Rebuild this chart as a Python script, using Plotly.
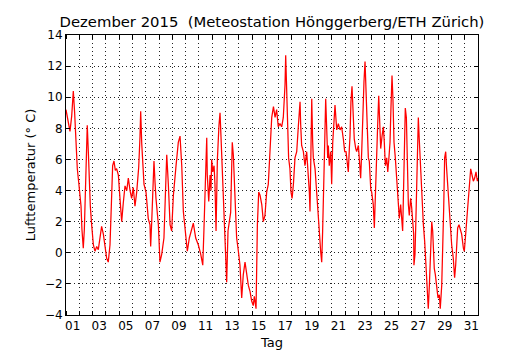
import plotly.graph_objects as go

# Time in days of December (1.0 = Dec 1, 00:00) and air temperature (°C)
days = [1.00, 1.15, 1.30, 1.43, 1.55, 1.65, 1.75, 1.85, 1.96, 2.05, 2.13, 2.20, 2.30, 2.38, 2.48,
        2.56, 2.60, 2.68, 2.75, 2.83, 2.93, 3.06, 3.18, 3.31, 3.43, 3.56, 3.68, 3.81, 3.93, 4.06,
        4.18, 4.31, 4.41, 4.51, 4.61, 4.71, 4.81, 4.94, 5.06, 5.19, 5.31, 5.44, 5.57, 5.69, 5.82,
        5.94, 6.06, 6.19, 6.32, 6.47, 6.57, 6.62, 6.70, 6.77, 6.87, 7.02, 7.12, 7.19, 7.32, 7.37,
        7.45, 7.52, 7.62, 7.70, 7.77, 7.95, 8.07, 8.20, 8.37, 8.47, 8.58, 8.70, 8.83, 8.95, 9.08,
        9.28, 9.45, 9.58, 9.71, 9.83, 9.95, 10.13, 10.28, 10.46, 10.58, 10.76, 10.96, 11.14, 11.29,
        11.38, 11.46, 11.53, 11.59, 11.63, 11.74, 11.84, 11.91, 11.96, 12.04, 12.14, 12.21, 12.29,
        12.39, 12.51, 12.59, 12.66, 12.79, 12.91, 13.02, 13.09, 13.19, 13.29, 13.39, 13.51, 13.59,
        13.72, 13.84, 13.97, 14.09, 14.22, 14.34, 14.47, 14.60, 14.72, 14.85, 14.97, 15.09, 15.17,
        15.30, 15.40, 15.50, 15.60, 15.73, 15.85, 15.97, 16.10, 16.22, 16.35, 16.48, 16.61, 16.73,
        16.85, 16.97, 17.10, 17.23, 17.35, 17.48, 17.53, 17.60, 17.68, 17.75, 17.85, 17.93, 18.01,
        18.11, 18.23, 18.36, 18.48, 18.61, 18.66, 18.73, 18.86, 18.98, 19.11, 19.23, 19.31, 19.36,
        19.49, 19.56, 19.61, 19.74, 19.86, 19.99, 20.06, 20.16, 20.24, 20.31, 20.36, 20.44, 20.54,
        20.61, 20.69, 20.74, 20.81, 20.92, 20.99, 21.07, 21.17, 21.24, 21.37, 21.49, 21.62, 21.74,
        21.87, 21.97, 22.07, 22.17, 22.24, 22.32, 22.37, 22.44, 22.52, 22.62, 22.69, 22.80, 22.87,
        23.00, 23.07, 23.17, 23.25, 23.32, 23.42, 23.50, 23.57, 23.67, 23.75, 23.82, 23.93, 24.00,
        24.12, 24.20, 24.27, 24.38, 24.45, 24.53, 24.57, 24.68, 24.78, 24.88, 24.95, 25.03, 25.13,
        25.21, 25.28, 25.38, 25.45, 25.53, 25.60, 25.68, 25.78, 25.88, 25.98, 26.08, 26.18, 26.26,
        26.33, 26.38, 26.46, 26.53, 26.61, 26.68, 26.76, 26.83, 26.93, 27.01, 27.09, 27.16, 27.18,
        27.26, 27.33, 27.39, 27.46, 27.51, 27.58, 27.69, 27.79, 27.89, 27.99, 28.09, 28.19, 28.26,
        28.34, 28.44, 28.52, 28.59, 28.64, 28.71, 28.79, 28.89, 28.99, 29.09, 29.16, 29.27, 29.34,
        29.42, 29.49, 29.57, 29.64, 29.72, 29.79, 29.89, 30.02, 30.14, 30.24, 30.32, 30.40, 30.47,
        30.57, 30.65, 30.77, 30.90, 30.97, 31.05, 31.15, 31.25, 31.35, 31.45, 31.55, 31.65, 31.75,
        31.85, 31.95, 32.00]
temps = [9.2, 8.6, 7.8, 8.8, 10.4, 9.0, 6.5, 5.4, 4.5, 3.9, 3.0, 1.5, 0.3, 1.5, 5.0,
         7.0, 8.2, 6.5, 4.4, 3.0, 1.8, 0.5, 0.1, 0.4, 0.2, 0.95, 1.7, 1.2, 0.3, -0.35,
         -0.6, 0.5, 3.0, 5.6, 5.9, 5.3, 5.4, 5.0, 3.5, 2.0, 3.2, 4.3, 4.0, 4.8, 4.0,
         3.5, 4.2, 3.0, 3.9, 5.5, 7.5, 9.1, 7.0, 5.6, 4.4, 3.9, 3.0, 2.2, 1.8, 0.4,
         2.0, 3.9, 5.9, 4.5, 3.5, 1.8, -0.6, -0.1, 0.95, 3.5, 6.3, 4.4, 1.8, 1.4, 3.7,
         5.6, 7.1, 7.5, 5.6, 2.65, 1.6, 0.1, 0.95, 1.6, 1.9, 0.95, 0.5, -0.1, -0.8,
         1.5, 3.9, 6.0, 7.4, 5.0, 3.3, 5.0, 4.0, 6.0, 5.2, 5.6, 4.4, 1.4,
         6.0, 8.2, 9.0, 7.5, 5.0, 2.4, -0.35, -1.9, 1.4, 2.0, 2.6, 7.1, 6.3,
         3.5, 0.95, 0.1, -0.8, -2.9, -1.4, -0.6, -1.6, -2.1, -2.5, -3.1, -3.4, -2.8,
         -3.6, 1.8, 3.9, 3.7, 3.1, 2.0, 2.4, 3.9, 4.4, 6.5, 8.7, 9.4, 8.7,
         9.2, 8.1, 8.3, 8.1, 8.7, 10.8, 12.7, 11.0, 8.4, 6.1, 5.4, 3.9, 3.5,
         4.4, 6.1, 6.5, 8.1, 9.7, 8.2, 6.9, 6.5, 5.6, 6.5, 5.2, 3.9, 2.65,
         9.9, 7.1, 6.1, 5.4, 4.1, 2.65, 1.4, 0.1, -0.6, 1.4, 3.9, 6.1, 9.9,
         7.5, 6.1, 6.9, 5.6, 6.5, 4.4, 7.1, 8.7, 9.5, 7.9, 8.3, 7.9, 8.1,
         7.3, 6.5, 6.5, 5.6, 5.2, 6.7, 7.5, 9.7, 10.7, 8.7, 7.3, 6.7, 6.5,
         6.9, 6.1, 4.8, 6.5, 8.7, 11.0, 12.3, 10.8, 7.9, 6.1, 5.9, 4.1, 3.9,
         3.1, 1.6, 3.9, 6.1, 8.2, 10.1, 8.7, 6.7, 7.5, 8.1, 7.1, 5.6, 6.1,
         5.2, 5.9, 7.1, 9.3, 11.4, 9.9, 7.1, 6.1, 4.8, 2.9, 2.2, 3.1, 1.8,
         1.4, 3.3, 6.5, 9.3, 8.7, 5.4, 3.1, 2.4, 3.5, 2.9, 1.8, 1.2, -0.8,
         -0.1, 2.2, 4.8, 7.5, 8.7, 7.3, 5.2, 3.1, 1.8, 0.7, -0.8, -2.5, -3.6,
         -2.1, -0.35, 2.0, 1.4, -0.35, -1.0, -1.4, -2.1, -2.9, -2.7, -3.6, -2.1, -0.35,
         2.9, 6.1, 6.5, 5.4, 4.4, 3.5, 1.8, 0.5, -0.35, -1.6, -0.8, 0.95, 1.6,
         1.8, 1.6, 1.2, 0.3, 0.1, 0.95, 2.0, 3.1, 4.6, 5.4, 5.0, 4.6, 4.8,
         5.2, 4.6, 4.8]

day_bounds = list(range(1, 33))
label_pos = [1.5, 3.5, 5.5, 7.5, 9.5, 11.5, 13.5, 15.5, 17.5, 19.5, 21.5, 23.5, 25.5, 27.5, 29.5, 31.5]
label_text = ["01", "03", "05", "07", "09", "11", "13", "15", "17", "19", "21", "23", "25", "27", "29", "31"]
y_ticks = [-4, -2, 0, 2, 4, 6, 8, 10, 12, 14]

font = "DejaVu Sans"
fig = go.Figure()
fig.add_trace(go.Scatter(x=days, y=temps, mode="lines",
                         line=dict(color="#ff0000", width=1.25), showlegend=False))

# The page body keeps an 8px margin, so the figure is 8px smaller on each axis
W, H = 522, 342
fig.update_layout(
    width=W, height=H, autosize=False,
    margin=dict(l=58, r=52, t=27, b=35, autoexpand=False),
    paper_bgcolor="white", plot_bgcolor="white",
    font=dict(family=font, size=12, color="black"),
    title=dict(text="Dezember 2015\u00a0\u00a0(Meteostation Hönggerberg/ETH Zürich)",
               x=0.5, xref="paper", xanchor="center",
               y=1 - 14 / H, yref="container", yanchor="middle",
               font=dict(family=font, size=14.8, color="black")),
)
fig.update_xaxes(
    range=[1, 32], tickmode="array", tickvals=label_pos, ticktext=label_text,
    ticks="", showgrid=False, zeroline=False, automargin=False,
    showline=True, linecolor="black", linewidth=1, mirror="ticks",
    tickfont=dict(size=12),
    title=dict(text="Tag", font=dict(size=13)),
    minor=dict(tickmode="array", tickvals=day_bounds, ticks="inside", ticklen=4,
               tickcolor="black", tickwidth=1, showgrid=True, gridcolor="#222",
               gridwidth=1, griddash="1px,3px"),
)
fig.update_yaxes(
    range=[-4, 14], tickmode="array", tickvals=y_ticks,
    ticks="inside", ticklen=4, tickcolor="black", tickwidth=1,
    showgrid=True, gridcolor="#222", gridwidth=1, griddash="1px,3px",
    zeroline=False, showline=True, linecolor="black", linewidth=1, mirror="ticks",
    automargin=False,
    tickfont=dict(size=12),
    title=dict(text="Lufttemperatur (° C)", font=dict(size=13), standoff=6),
)

fig.write_html("out.html")
